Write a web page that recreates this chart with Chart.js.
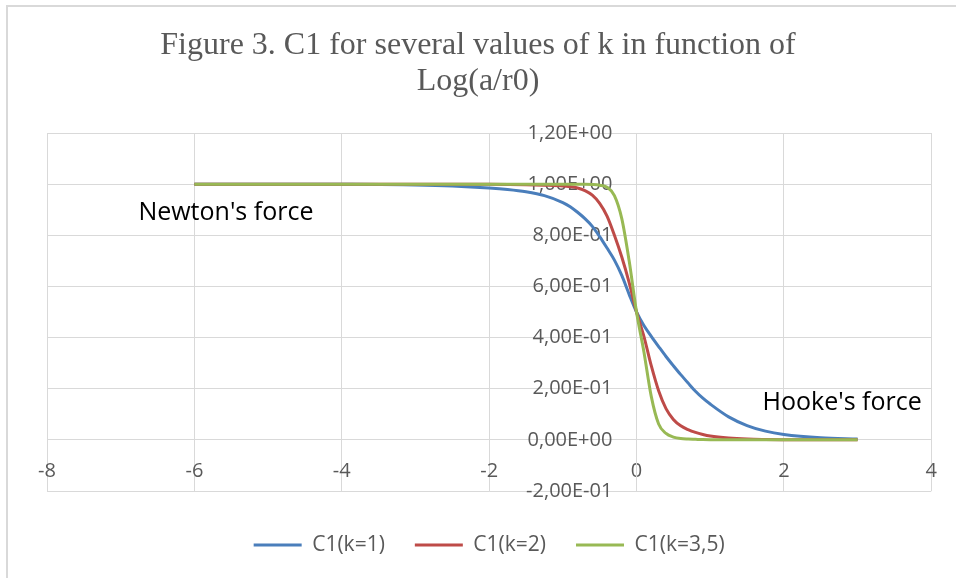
<!DOCTYPE html>
<html><head><meta charset="utf-8">
<script src="https://cdn.jsdelivr.net/npm/chart.js@4.4.1/dist/chart.umd.min.js"></script>
<style>
html,body{margin:0;padding:0;background:#fff;overflow:hidden;}
#wrap{position:relative;width:956px;height:578px;overflow:hidden;}
#frame{position:absolute;left:6px;top:5px;width:1000px;height:1000px;border:2px solid #d9d9d9;box-sizing:border-box;}
canvas{position:absolute;left:0;top:0;}
</style></head><body>
<div id="wrap"><div id="frame"></div><canvas id="c" width="956" height="578" style="width:956px;height:578px"></canvas></div>
<script>
// ---- data ----
const titleLines = ['Figure 3. C1 for several values of k in function of', 'Log(a/r0)'];
const seriesNames = ['C1(k=1)', 'C1(k=2)', 'C1(k=3,5)'];
const seriesColors = ['#4A7EBB', '#BE4B48', '#98B954'];
const xValues = [-6, -5, -4, -3, -2.5, -2, -1.75, -1.5, -1.25, -1, -0.9, -0.8, -0.7, -0.6, -0.5, -0.4, -0.3, -0.2, -0.1, 0, 0.1, 0.2, 0.3, 0.4, 0.5, 0.6, 0.7, 0.8, 0.9, 1, 1.25, 1.5, 1.75, 2, 2.5, 3];
const c1k1 = [1.000, 1.000, 0.9995, 0.997, 0.993, 0.985, 0.979, 0.97, 0.955, 0.928, 0.912, 0.89, 0.865, 0.835, 0.795, 0.75, 0.703, 0.643, 0.569, 0.5, 0.447, 0.405, 0.365, 0.326, 0.29, 0.255, 0.222, 0.19, 0.163, 0.14, 0.09, 0.056, 0.034, 0.021, 0.008, 0.003];
const c1k2 = [1.000, 1.000, 1.000, 1.000, 1.000, 0.9995, 0.999, 0.998, 0.996, 0.993, 0.99, 0.985, 0.975, 0.957, 0.925, 0.875, 0.80, 0.715, 0.615, 0.5, 0.405, 0.29, 0.192, 0.122, 0.08, 0.055, 0.04, 0.029, 0.021, 0.015, 0.007, 0.003, 0.0015, 0.0008, 0.0002, 0];
const c1k35 = [1.000, 1.000, 1.000, 1.000, 1.000, 1.000, 1.000, 1.000, 1.000, 1.000, 1.000, 1.000, 1.000, 0.999, 0.996, 0.988, 0.955, 0.865, 0.70, 0.5, 0.345, 0.17, 0.062, 0.025, 0.011, 0.005, 0.003, 0.002, 0.001, 0.0005, 0, 0, 0, 0, 0, 0];
const xTickLabels = ['-8', '-6', '-4', '-2', '0', '2', '4'];
const yTickLabels = ['-2,00E-01', '0,00E+00', '2,00E-01', '4,00E-01', '6,00E-01', '8,00E-01', '1,00E+00', '1,20E+00'];
const annotationTexts = ["Newton's force", "Hooke's force"];
const annotationAt = [[-6.76, 0.86], [1.71, 0.117]];

const seriesValues = [c1k1, c1k2, c1k35];
const gray = '#595959';
const gridColor = '#d9d9d9';
const tickFont = {family: 'Open Sans', size: 20};
const yLabelGap = '    \u2009';

const datasets = seriesValues.map((vals, i) => ({
  label: seriesNames[i],
  data: xValues.map((x, j) => ({x: x, y: vals[j]})),
  borderColor: seriesColors[i],
  backgroundColor: seriesColors[i],
  borderWidth: 3,
  pointRadius: 0,
  fill: false,
  cubicInterpolationMode: 'monotone',
  order: 3 - i
}));

const annotationPlugin = {
  id: 'annot',
  afterDatasetsDraw(chart) {
    const ctx = chart.ctx;
    ctx.save();
    ctx.font = '25px "Open Sans"';
    ctx.fillStyle = '#000';
    ctx.textAlign = 'left';
    ctx.textBaseline = 'alphabetic';
    annotationTexts.forEach((t, i) => {
      ctx.fillText(t, chart.scales.x.getPixelForValue(annotationAt[i][0]), chart.scales.y.getPixelForValue(annotationAt[i][1]));
    });
    ctx.restore();
  }
};

new Chart(document.getElementById('c'), {
  type: 'line',
  data: {datasets},
  plugins: [annotationPlugin],
  options: {
    responsive: false,
    animation: false,
    layout: {padding: {top: 0, bottom: 12.5, left: 0, right: 0}},
    scales: {
      x: {
        type: 'linear', axis: 'x', position: {y: 0},
        min: -8, max: 4,
        afterFit: s => { s.height = 0; },
        ticks: {stepSize: 2, color: gray, font: tickFont, padding: 19,
          callback: (v, i) => xTickLabels[i]},
        grid: {color: gridColor, lineWidth: 1, drawTicks: false},
        border: {color: gridColor, width: 1}
      },
      y: {
        type: 'linear', axis: 'y', position: {x: 0},
        min: -0.2, max: 1.2,
        afterFit: s => { s.width = 0; },
        ticks: {stepSize: 0.2, color: gray, font: tickFont, padding: 24,
          callback: (v, i) => yTickLabels[i] + yLabelGap},
        grid: {color: gridColor, lineWidth: 1, drawTicks: false},
        border: {color: gridColor, width: 1}
      },
      padL: {
        type: 'linear', axis: 'y', position: 'left', min: 0, max: 1,
        afterFit: s => { s.width = 47; },
        ticks: {display: false}, grid: {display: false}, border: {display: false}
      },
      padR: {
        type: 'linear', axis: 'y', position: 'right', min: 0, max: 1,
        afterFit: s => { s.width = 24; },
        ticks: {display: false}, grid: {display: false}, border: {display: false}
      }
    },
    plugins: {
      tooltip: {enabled: false},
      title: {
        display: true,
        text: titleLines,
        color: gray,
        font: {family: 'Liberation Serif', size: 32, weight: 'normal', lineHeight: 1.125},
        padding: {top: 28, bottom: 33}
      },
      legend: {
        display: true,
        position: 'bottom',
        fullSize: false,
        title: {display: true, text: '', padding: 0, font: {size: 13.5, lineHeight: 1}},
        labels: {
          color: gray,
          font: {family: 'Open Sans', size: 21},
          usePointStyle: true,
          pointStyle: 'line',
          pointStyleWidth: 48,
          padding: 30,
          sort: (a, b) => a.datasetIndex - b.datasetIndex
        }
      }
    }
  }
});
</script>
</body></html>
